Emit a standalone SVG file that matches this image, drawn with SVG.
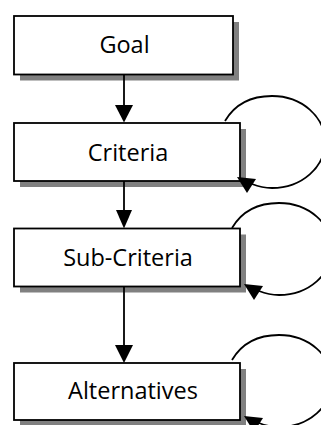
<svg xmlns="http://www.w3.org/2000/svg" width="321" height="425" viewBox="0 0 321 425">
  <style>
    .shadow { fill: #808080; stroke: none; }
    .box { fill: #ffffff; stroke: #000000; stroke-width: 1.8; }
    .label { font-family: "Open Sans", "Noto Sans", "DejaVu Sans", sans-serif; font-size: 23.5px; fill: #000000; text-anchor: middle; }
    .line { fill: none; stroke: #000000; stroke-width: 1.8; }
    .head { fill: #000000; stroke: none; }
  </style>
  <defs>
    <g id="loop">
      <path class="line" d="M225,121 C235,104 251,96 272,96 C302,96 325,117 325,142 C325,167 302,188 272,188 C263,188 257,186 252,184"/>
      <polygon class="head" points="237,177 256,179 247,193"/>
    </g>
  </defs>
  <rect x="0" y="0" width="321" height="425" fill="#ffffff"/>
  <g id="goal">
    <rect class="shadow" x="20" y="22" width="219" height="58.5"/>
    <rect class="box" x="14" y="16" width="219" height="58.5"/>
    <text class="label" x="124.5" y="53">Goal</text>
  </g>
  <g id="criteria">
    <rect class="shadow" x="20" y="129" width="226" height="58"/>
    <rect class="box" x="14" y="123" width="226" height="58"/>
    <text class="label" x="128" y="161">Criteria</text>
  </g>
  <g id="sub-criteria">
    <rect class="shadow" x="20" y="234.5" width="226" height="58"/>
    <rect class="box" x="14" y="228.5" width="226" height="58"/>
    <text class="label" x="128" y="266">Sub-Criteria</text>
  </g>
  <g id="alternatives">
    <rect class="shadow" x="20" y="369" width="226" height="57"/>
    <rect class="box" x="14" y="363" width="226" height="57"/>
    <text class="label" x="133" y="399">Alternatives</text>
  </g>
  <g id="connectors">
    <line class="line" x1="124" y1="74.5" x2="124" y2="106"/>
    <polygon class="head" points="115,105 133,105 124,122.5"/>
    <line class="line" x1="124" y1="181" x2="124" y2="211"/>
    <polygon class="head" points="116,210 132,210 124,228.5"/>
    <line class="line" x1="124" y1="286.5" x2="124" y2="346"/>
    <polygon class="head" points="115,345 133,345 124,363"/>
    <use href="#loop"/>
    <use href="#loop" transform="translate(7,107)"/>
    <use href="#loop" transform="translate(7,239)"/>
  </g>
</svg>
